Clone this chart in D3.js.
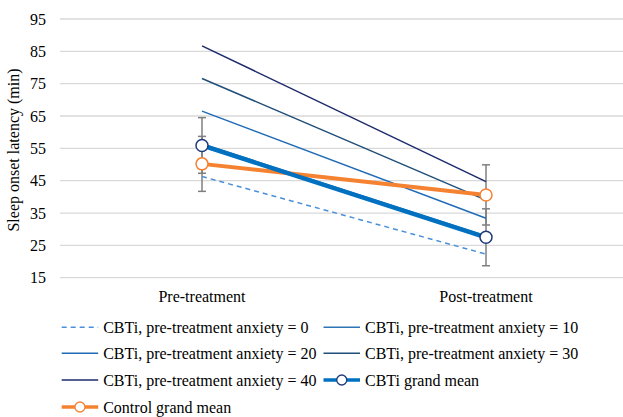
<!DOCTYPE html>
<html><head><meta charset="utf-8">
<script src="https://cdn.jsdelivr.net/npm/d3@7"></script>
</head><body><svg id="c" width="623" height="417"></svg>
<script>
const categories = ["Pre-treatment", "Post-treatment"];
const yTicks = [15, 25, 35, 45, 55, 65, 75, 85, 95];
const anx0 = [46.3, 22.3];
const anx10 = [56.4, 27.9];
const anx20 = [66.5, 33.4];
const anx30 = [76.6, 39.0];
const anx40 = [86.7, 44.7];
const cbtiMean = [55.9, 27.5];
const cbtiErr = [8.6, 8.8];
const controlMean = [50.2, 40.6];
const controlErr = [8.5, 9.3];
const seriesNames = ["CBTi, pre-treatment anxiety = 0","CBTi, pre-treatment anxiety = 10","CBTi, pre-treatment anxiety = 20","CBTi, pre-treatment anxiety = 30","CBTi, pre-treatment anxiety = 40","CBTi grand mean","Control grand mean"];

document.body.style.margin = "0";
d3.select("#c").style("display", "block");
const fontName = "Liberation Serif";
function font(sel) { return sel.style("font-family", `"${fontName}", monospace`).style("font-size", "16px").style("fill", "#000"); }
const svg = d3.select("#c");
const x = d3.scaleBand().domain(categories).range([60, 628]);
const y = d3.scaleLinear().domain([15, 95]).range([277.7, 19]);
const cx = c => x(c) + x.bandwidth() / 2;

// gridlines
svg.append("g").selectAll("line").data(yTicks).join("line")
  .attr("x1", 60).attr("x2", 628).attr("y1", d => y(d)).attr("y2", d => y(d))
  .attr("stroke", "#d9d9d9").attr("stroke-width", 1.3);

// y axis labels
const ya = svg.append("g").attr("transform", "translate(46,0)")
  .call(d3.axisLeft(y).tickValues(yTicks).tickSize(0).tickPadding(0));
ya.select(".domain").remove();
ya.attr("font-family", null).attr("font-size", null);
font(ya.selectAll("text"));

// x axis labels
font(svg.append("g").selectAll("text").data(categories).join("text")
  .attr("x", d => cx(d)).attr("y", 301.7).attr("text-anchor", "middle").text(d => d));

// y title
font(svg.append("text").attr("transform", "translate(19,150) rotate(-90)").attr("text-anchor", "middle")
  .text("Sleep onset latency (min)"));

// error bars
function errBars(mean, err) {
  const g = svg.append("g").attr("stroke", "#7f7f7f").attr("stroke-width", 1.5);
  categories.forEach((c, i) => {
    const xc = cx(c);
    g.append("line").attr("x1", xc).attr("x2", xc).attr("y1", y(mean[i] + err[i])).attr("y2", y(mean[i] - err[i]));
    [mean[i] + err[i], mean[i] - err[i]].forEach(v => g.append("line").attr("x1", xc - 4).attr("x2", xc + 4).attr("y1", y(v)).attr("y2", y(v)));
  });
}
errBars(cbtiMean, cbtiErr);
errBars(controlMean, controlErr);

const line = d3.line().x((d, i) => cx(categories[i])).y(d => y(d));
const styles = [
  {data: anx0, color: "#4a90d9", w: 1.5, dash: "5,4"},
  {data: anx10, color: "#2e75b6", w: 1.5},
  {data: anx20, color: "#1f6bb5", w: 1.5},
  {data: anx30, color: "#1f4e79", w: 1.5},
  {data: anx40, color: "#1c2a6b", w: 1.5},
  {data: cbtiMean, color: "#0070c0", w: 4.5, marker: "#1f3a7a"},
  {data: controlMean, color: "#f58231", w: 4, marker: "#f58231"}
];
const drawOrder = [0,1,2,3,4,6,5];
drawOrder.forEach(k => {
  const s = styles[k];
  svg.append("path").datum(s.data).attr("d", line).attr("fill", "none")
    .attr("stroke", s.color).attr("stroke-width", s.w).attr("stroke-dasharray", s.dash || null);
});
[6,5].forEach(k => {
  const s = styles[k];
  svg.append("g").selectAll("circle").data(s.data).join("circle")
    .attr("cx", (d, i) => cx(categories[i])).attr("cy", d => y(d)).attr("r", 6)
    .attr("fill", "#fff").attr("stroke", s.marker).attr("stroke-width", 1.5);
});

// legend
const legPos = [[61.7,0],[323.5,0],[61.7,1],[323.5,1],[61.7,2],[323.5,2],[61.7,3]];
const rowY = [327.3, 353.3, 380, 407];
const lg = svg.append("g");
styles.forEach((s, k) => {
  const [lx, r] = legPos[k];
  const ly = rowY[r];
  lg.append("line").attr("x1", lx).attr("x2", lx + 36.5).attr("y1", ly).attr("y2", ly)
    .attr("stroke", s.color).attr("stroke-width", s.marker ? 3.5 : 1.5).attr("stroke-dasharray", s.dash || null);
  if (s.marker) lg.append("circle").attr("cx", lx + 18.25).attr("cy", ly).attr("r", 5)
    .attr("fill", "#fff").attr("stroke", s.marker).attr("stroke-width", 1.3);
  font(lg.append("text").attr("x", lx + 41.5).attr("y", ly + 6).text(seriesNames[k]));
});
</script></body></html>
